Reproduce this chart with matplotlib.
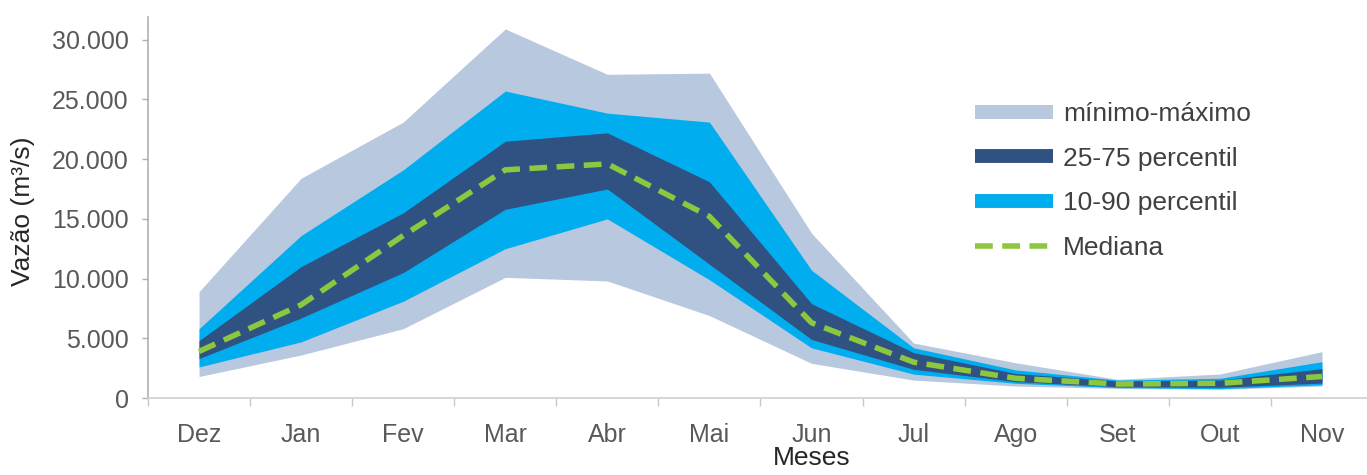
import matplotlib.pyplot as plt
from matplotlib.lines import Line2D
from matplotlib.ticker import FuncFormatter, FixedLocator

plt.rcParams['font.family'] = ['Liberation Sans', 'DejaVu Sans']

meses = ['Dez', 'Jan', 'Fev', 'Mar', 'Abr', 'Mai', 'Jun', 'Jul', 'Ago', 'Set', 'Out', 'Nov']
minimo = [1800, 3600, 5800, 10100, 9800, 6900, 2900, 1500, 1000, 800, 730, 1000]
p10 = [2600, 4700, 8100, 12500, 15000, 9900, 4200, 2000, 1230, 870, 780, 1100]
p25 = [3300, 6700, 10500, 15800, 17500, 11200, 4900, 2400, 1370, 950, 900, 1250]
mediana = [3900, 7800, 13600, 19100, 19600, 15200, 6300, 3000, 1650, 1170, 1230, 1800]
p75 = [4800, 11000, 15500, 21500, 22200, 18100, 7900, 3800, 2050, 1420, 1500, 2450]
p90 = [5800, 13600, 19100, 25700, 23850, 23100, 10700, 4200, 2350, 1500, 1650, 3040]
maximo = [8900, 18400, 23100, 30900, 27100, 27200, 13800, 4600, 2950, 1560, 2010, 3880]

c_minmax = '#b8c8de'
c_1090 = '#00adef'
c_2575 = '#2f5282'
c_med = '#8dc63f'
cinza = '#595959'

fig = plt.figure(figsize=(13.67, 4.75), dpi=100)
ax = fig.add_axes([148 / 1367, 77 / 475, 1225 / 1367, 381 / 475])

x = range(len(meses))
ax.fill_between(x, minimo, maximo, color=c_minmax, lw=0)
ax.fill_between(x, p10, p90, color=c_1090, lw=0)
ax.fill_between(x, p25, p75, color=c_2575, lw=0)
ax.plot(x, mediana, color=c_med, lw=4, dashes=(3.2, 1.7))

ax.set_xlim(-0.5, 11.5)
ax.set_ylim(0, 31900)

ax.set_yticks(range(0, 30001, 5000))
ax.yaxis.set_major_formatter(FuncFormatter(lambda v, p: f'{int(v):,}'.replace(',', '.')))
ax.set_xticks(list(x))
ax.set_xticklabels(meses)
ax.xaxis.set_minor_locator(FixedLocator([i - 0.5 for i in range(13)]))

ax.tick_params(axis='x', which='major', length=0, pad=18, labelsize=18, labelcolor=cinza)
ax.tick_params(axis='x', which='minor', length=6, width=1, color='#c8c8c8')
ax.tick_params(axis='y', length=4, width=1, color='#b0b0b0', pad=10, labelsize=18, labelcolor=cinza)

for s in ['top', 'right']:
    ax.spines[s].set_visible(False)
ax.spines['left'].set_color('#b0b0b0')
ax.spines['bottom'].set_color('#d0d0d0')
ax.spines['left'].set_linewidth(1.2)
ax.spines['bottom'].set_linewidth(1.2)

ax.set_ylabel('Vazão (m³/s)', fontsize=19, color='#262626')
ax.yaxis.set_label_coords(-0.092, 0.49)
ax.set_xlabel('Meses', fontsize=19, color='#262626')
ax.xaxis.set_label_coords(0.542, -0.125)

handles = [
    Line2D([], [], color=c_minmax, lw=10, solid_capstyle='butt'),
    Line2D([], [], color=c_2575, lw=10, solid_capstyle='butt'),
    Line2D([], [], color=c_1090, lw=10, solid_capstyle='butt'),
    Line2D([], [], color=c_med, lw=4, dashes=(3.2, 1.7)),
]
labels = ['mínimo-máximo', '25-75 percentil', '10-90 percentil', 'Mediana']
leg = fig.legend(handles, labels, loc='upper left', bbox_to_anchor=(975 / 1367, 1 - 102 / 475),
                 frameon=False, fontsize=19, handlelength=2.95, handletextpad=0.38,
                 labelspacing=0.78, borderpad=0, borderaxespad=0)
for t in leg.get_texts():
    t.set_color('#404040')

fig.savefig('out.png', dpi=100)
